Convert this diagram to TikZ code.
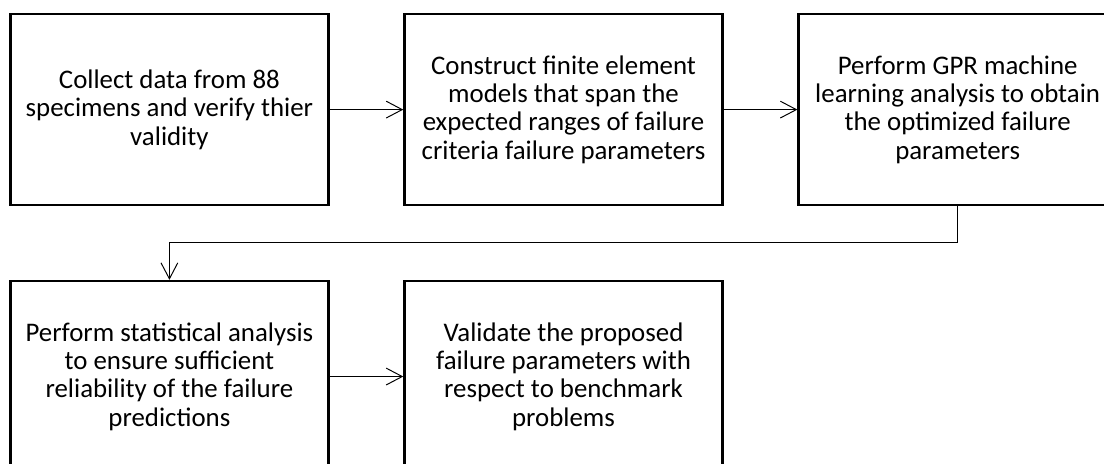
\documentclass[tikz,border=0pt]{standalone}
\usepackage{fontspec}
\setmainfont{Carlito}
\usetikzlibrary{positioning,arrows.meta}

\begin{document}
\begin{tikzpicture}[
    node distance=1.84cm,
    stage/.style={rectangle,draw=black,line width=1.8pt,minimum width=7.95cm,minimum height=4.77cm,
                  align=center,font=\fontsize{19.1}{20.1}\selectfont},
    flow/.style={draw=black,line width=0.7pt,-{Straight Barb[length=0.4cm,width=0.42cm]}},
]
\useasboundingbox (0,0) rectangle (27.6,-11.575);
\clip (0,0) rectangle (27.6,-11.575);

% first row
\node[stage] (collect) at (4.235,-2.74) {Collect data from 88\\specimens and verify thier\\validity};
\node[stage, right=of collect] (construct) {Construct finite element\\models that span the\\expected ranges of failure\\criteria failure parameters};
\node[stage, right=of construct] (gpr) {Perform GPR machine\\learning analysis to obtain\\the optimized failure\\parameters};

% second row
\node[stage, below=of collect] (stats) {Perform statistical analysis\\to ensure sufficient\\reliability of the failure\\predictions};
\node[stage, right=of stats] (validate) {Validate the proposed\\failure parameters with\\respect to benchmark\\problems};

\draw[flow] (collect) -- (construct);
\draw[flow] (construct) -- (gpr);
\draw[flow] (gpr.south) -- ++(0,-0.9) -| (stats.north);
\draw[flow] (stats) -- (validate);
\end{tikzpicture}
\end{document}
